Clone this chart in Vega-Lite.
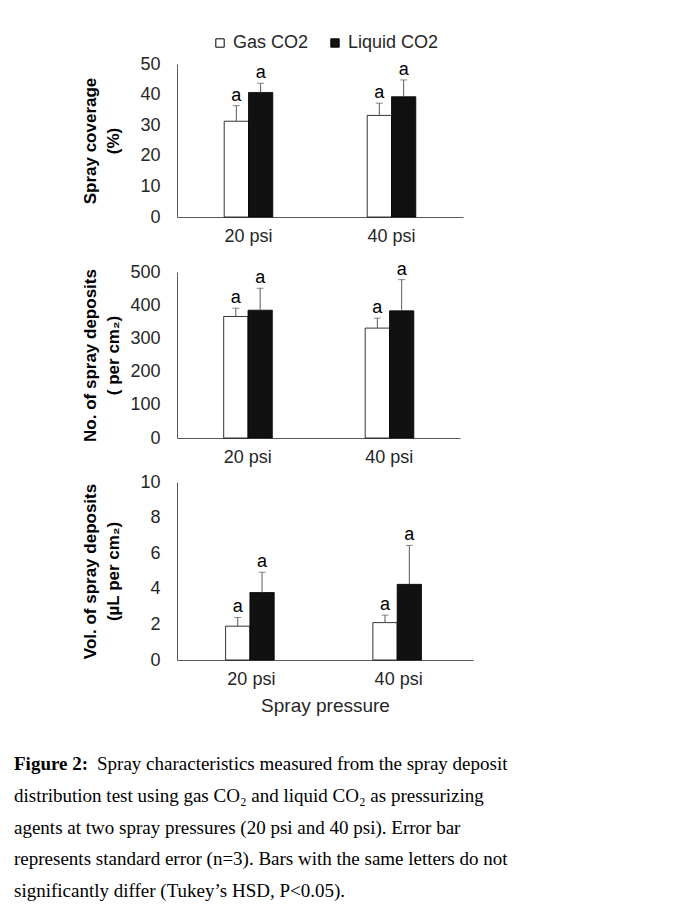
{
  "$schema": "https://vega.github.io/schema/vega-lite/v6.json",
  "background": "white",
  "padding": {"left": 14, "top": 34, "right": 5, "bottom": 5},
  "config": {
    "font": "Liberation Sans",
    "view": {"stroke": null},
    "axis": {"grid": false, "ticks": false, "domainColor": "#595959", "domainWidth": 1, "labelColor": "#262626", "labelFontSize": 18, "labelFont": "Liberation Sans", "labelOverlap": false, "titleColor": "#000000", "titleFont": "Liberation Sans"},
    "axisY": {"labelPadding": 17, "minExtent": 50, "maxExtent": 50, "titleFontSize": 17, "titleFontWeight": "bold", "titlePadding": 5, "titleLineHeight": 23, "labelOverlap": false},
    "axisX": {"labelPadding": 10, "labelAngle": 0, "titleFontSize": 19, "titleFontWeight": "normal", "titlePadding": 8, "titleColor": "#262626"},
    "text": {"font": "Liberation Sans"}
  },
  "spacing": 40,
  "vconcat": [
    {
      "spacing": 7,
      "vconcat": [
        {
          "spacing": 15,
          "resolve": {"legend": {"fill": "independent"}},
          "vconcat": [
            {
              "width": 286,
              "height": 153,
              "data": {"values": [
                {"pressure": "20 psi", "type": "Gas CO2", "value": 31.3, "upper": 36.4, "label": "a"},
                {"pressure": "20 psi", "type": "Liquid CO2", "value": 40.7, "upper": 43.7, "label": "a"},
                {"pressure": "40 psi", "type": "Gas CO2", "value": 33.2, "upper": 37.2, "label": "a"},
                {"pressure": "40 psi", "type": "Liquid CO2", "value": 39.3, "upper": 44.8, "label": "a"}
              ]},
              "encoding": {
                "x": {"field": "pressure", "type": "nominal", "sort": ["20 psi", "40 psi"], "scale": {"paddingInner": 0.66, "paddingOuter": 0.33}, "axis": {"title": null}},
                "xOffset": {"field": "type", "type": "nominal", "sort": ["Gas CO2", "Liquid CO2"], "scale": {"paddingInner": 0, "paddingOuter": 0}}
              },
              "layer": [
                {
                  "mark": {"type": "bar", "stroke": "#000000", "strokeWidth": 0.8},
                  "encoding": {
                    "y": {"field": "value", "type": "quantitative", "scale": {"domain": [0, 50]}, "axis": {"values": [0, 10, 20, 30, 40, 50], "labelOverlap": false, "title": ["Spray coverage", "(%)"]}},
                    "fill": {"field": "type", "type": "nominal", "scale": {"domain": ["Gas CO2", "Liquid CO2"], "range": ["#ffffff", "#111111"]},
                      "legend": {"title": null, "orient": "none", "direction": "horizontal", "legendX": 34, "legendY": -30, "symbolType": "square", "symbolSize": 70, "symbolStrokeColor": "#000000", "symbolStrokeWidth": 1, "labelFontSize": 18, "labelColor": "#262626", "labelOffset": 4, "columnPadding": 17}}
                  }
                },
                {
                  "mark": {"type": "rule", "color": "#595959", "strokeWidth": 1},
                  "encoding": {"y": {"field": "value", "type": "quantitative", "axis": {"values": [0, 10, 20, 30, 40, 50], "labelOverlap": false, "title": ["Spray coverage", "(%)"]}}, "y2": {"field": "upper"}}
                },
                {
                  "mark": {"type": "tick", "color": "#595959", "thickness": 1, "size": 7, "orient": "horizontal"},
                  "encoding": {"y": {"field": "upper", "type": "quantitative", "axis": {"values": [0, 10, 20, 30, 40, 50], "labelOverlap": false, "title": ["Spray coverage", "(%)"]}}}
                },
                {
                  "mark": {"type": "text", "fontSize": 18, "dy": -5, "baseline": "alphabetic", "color": "#000000"},
                  "encoding": {"y": {"field": "upper", "type": "quantitative", "axis": {"values": [0, 10, 20, 30, 40, 50], "labelOverlap": false, "title": ["Spray coverage", "(%)"]}}, "text": {"field": "label"}}
                }
              ]
            },
            {
              "width": 283,
              "height": 166,
              "data": {"values": [
                {"pressure": "20 psi", "type": "Gas CO2", "value": 366, "upper": 391, "label": "a"},
                {"pressure": "20 psi", "type": "Liquid CO2", "value": 385, "upper": 451, "label": "a"},
                {"pressure": "40 psi", "type": "Gas CO2", "value": 331, "upper": 361, "label": "a"},
                {"pressure": "40 psi", "type": "Liquid CO2", "value": 383, "upper": 477, "label": "a"}
              ]},
              "encoding": {
                "x": {"field": "pressure", "type": "nominal", "sort": ["20 psi", "40 psi"], "scale": {"paddingInner": 0.66, "paddingOuter": 0.33}, "axis": {"title": null}},
                "xOffset": {"field": "type", "type": "nominal", "sort": ["Gas CO2", "Liquid CO2"], "scale": {"paddingInner": 0, "paddingOuter": 0}}
              },
              "layer": [
                {
                  "mark": {"type": "bar", "stroke": "#000000", "strokeWidth": 0.8},
                  "encoding": {
                    "y": {"field": "value", "type": "quantitative", "scale": {"domain": [0, 500]}, "axis": {"values": [0, 100, 200, 300, 400, 500], "labelOverlap": false, "title": ["No. of spray deposits", "( per cm₂)"]}},
                    "fill": {"condition": {"test": "datum.type === 'Gas CO2'", "value": "#ffffff"}, "value": "#111111"}
                  }
                },
                {
                  "mark": {"type": "rule", "color": "#595959", "strokeWidth": 1},
                  "encoding": {"y": {"field": "value", "type": "quantitative", "axis": {"values": [0, 100, 200, 300, 400, 500], "labelOverlap": false, "title": ["No. of spray deposits", "( per cm₂)"]}}, "y2": {"field": "upper"}}
                },
                {
                  "mark": {"type": "tick", "color": "#595959", "thickness": 1, "size": 7, "orient": "horizontal"},
                  "encoding": {"y": {"field": "upper", "type": "quantitative", "axis": {"values": [0, 100, 200, 300, 400, 500], "labelOverlap": false, "title": ["No. of spray deposits", "( per cm₂)"]}}}
                },
                {
                  "mark": {"type": "text", "fontSize": 18, "dy": -5, "baseline": "alphabetic", "color": "#000000"},
                  "encoding": {"y": {"field": "upper", "type": "quantitative", "axis": {"values": [0, 100, 200, 300, 400, 500], "labelOverlap": false, "title": ["No. of spray deposits", "( per cm₂)"]}}, "text": {"field": "label"}}
                }
              ]
            }
          ]
        },
        {
          "width": 296,
          "height": 178,
          "data": {"values": [
            {"pressure": "20 psi", "type": "Gas CO2", "value": 1.9, "upper": 2.39, "label": "a"},
            {"pressure": "20 psi", "type": "Liquid CO2", "value": 3.79, "upper": 4.93, "label": "a"},
            {"pressure": "40 psi", "type": "Gas CO2", "value": 2.1, "upper": 2.52, "label": "a"},
            {"pressure": "40 psi", "type": "Liquid CO2", "value": 4.25, "upper": 6.44, "label": "a"}
          ]},
          "encoding": {
            "x": {"field": "pressure", "type": "nominal", "sort": ["20 psi", "40 psi"], "scale": {"paddingInner": 0.65, "paddingOuter": 0.33}, "axis": {"title": "Spray pressure"}},
            "xOffset": {"field": "type", "type": "nominal", "sort": ["Gas CO2", "Liquid CO2"], "scale": {"paddingInner": 0, "paddingOuter": 0}}
          },
          "layer": [
            {
              "mark": {"type": "bar", "stroke": "#000000", "strokeWidth": 0.8},
              "encoding": {
                "y": {"field": "value", "type": "quantitative", "scale": {"domain": [0, 10]}, "axis": {"values": [0, 2, 4, 6, 8, 10], "labelOverlap": false, "title": ["Vol. of spray deposits", "(µL per cm₂)"]}},
                "fill": {"condition": {"test": "datum.type === 'Gas CO2'", "value": "#ffffff"}, "value": "#111111"}
              }
            },
            {
              "mark": {"type": "rule", "color": "#595959", "strokeWidth": 1},
              "encoding": {"y": {"field": "value", "type": "quantitative", "axis": {"values": [0, 2, 4, 6, 8, 10], "labelOverlap": false, "title": ["Vol. of spray deposits", "(µL per cm₂)"]}}, "y2": {"field": "upper"}}
            },
            {
              "mark": {"type": "tick", "color": "#595959", "thickness": 1, "size": 7, "orient": "horizontal"},
              "encoding": {"y": {"field": "upper", "type": "quantitative", "axis": {"values": [0, 2, 4, 6, 8, 10], "labelOverlap": false, "title": ["Vol. of spray deposits", "(µL per cm₂)"]}}}
            },
            {
              "mark": {"type": "text", "fontSize": 18, "dy": -5, "baseline": "alphabetic", "color": "#000000"},
              "encoding": {"y": {"field": "upper", "type": "quantitative", "axis": {"values": [0, 2, 4, 6, 8, 10], "labelOverlap": false, "title": ["Vol. of spray deposits", "(µL per cm₂)"]}}, "text": {"field": "label"}}
            }
          ]
        }
      ]
    },
    {
      "width": 300,
      "height": 127,
      "data": {"values": [
        {"line": 1, "col": 0, "head": "Figure 2:", "text": "Spray characteristics measured from the spray deposit"},
        {"line": 2, "col": 0, "head": "", "text": "distribution test using gas CO₂ and liquid CO₂ as pressurizing"},
        {"line": 3, "col": 0, "head": "", "text": "agents at two spray pressures (20 psi and 40 psi). Error bar"},
        {"line": 4, "col": 0, "head": "", "text": "represents standard error (n=3). Bars with the same letters do not"},
        {"line": 5, "col": 0, "head": "", "text": "significantly differ (Tukey’s HSD, P<0.05)."}
      ]},
      "encoding": {
        "x": {"field": "col", "type": "quantitative", "scale": {"domain": [0, 1]}, "axis": null},
        "y": {"field": "line", "type": "ordinal", "scale": {"type": "point", "padding": 0}, "axis": null}
      },
      "layer": [
        {
          "mark": {"type": "text", "font": "Liberation Serif", "fontSize": 19, "fontWeight": "bold", "align": "left", "baseline": "middle", "dx": -163, "color": "#000000"},
          "encoding": {"text": {"field": "head"}}
        },
        {
          "transform": [{"filter": "datum.line === 1"}],
          "mark": {"type": "text", "font": "Liberation Serif", "fontSize": 19, "align": "left", "baseline": "middle", "dx": -80, "color": "#000000"},
          "encoding": {"text": {"field": "text"}}
        },
        {
          "transform": [{"filter": "datum.line > 1"}],
          "mark": {"type": "text", "font": "Liberation Serif", "fontSize": 19, "align": "left", "baseline": "middle", "dx": -163, "color": "#000000"},
          "encoding": {"text": {"field": "text"}}
        }
      ]
    }
  ]
}
